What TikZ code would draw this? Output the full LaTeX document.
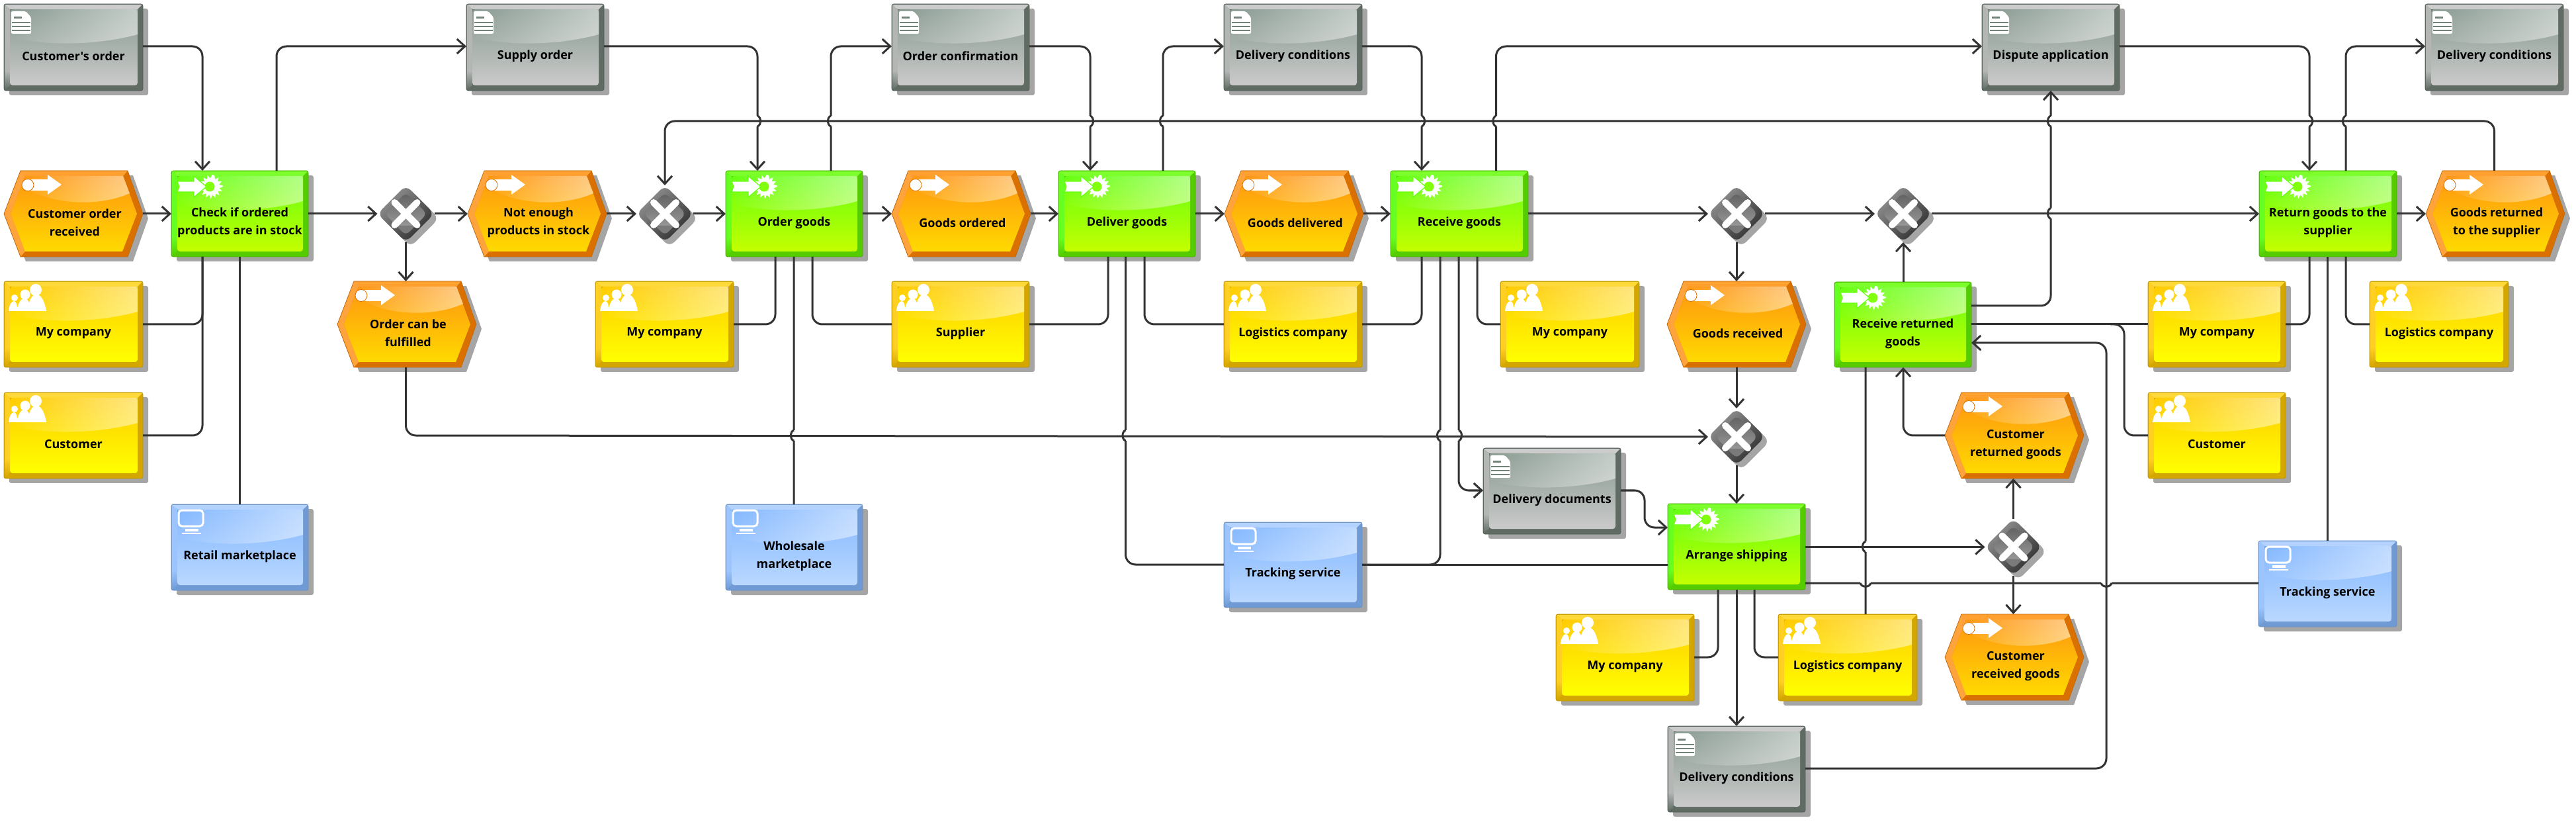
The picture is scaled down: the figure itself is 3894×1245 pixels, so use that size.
\documentclass[tikz,border=0pt]{standalone}
\usepackage{fontspec}
\usetikzlibrary{arrows.meta,shapes.geometric,calc,fadings}
\newfontfamily\lblfont{Open Sans}
% palettes: O outline, T top bevel, L left bevel, D dark bevel, A face top, B face bottom
\definecolor{docO}{HTML}{4F5A54}\definecolor{docT}{HTML}{CCCCCC}\definecolor{docL}{HTML}{B4B6B4}\definecolor{docD}{HTML}{5F6B63}\definecolor{docA}{HTML}{889A90}\definecolor{docB}{HTML}{CACACA}
\definecolor{orgO}{HTML}{C09400}\definecolor{orgT}{HTML}{FFD93A}\definecolor{orgL}{HTML}{FFCF24}\definecolor{orgD}{HTML}{D4A600}\definecolor{orgA}{HTML}{FFCC00}\definecolor{orgB}{HTML}{FFFF00}
\definecolor{fnO}{HTML}{44B000}\definecolor{fnT}{HTML}{7CFF2A}\definecolor{fnL}{HTML}{66FF22}\definecolor{fnD}{HTML}{55CC00}\definecolor{fnA}{HTML}{66FF11}\definecolor{fnB}{HTML}{C4FF00}
\definecolor{evO}{HTML}{C06A10}\definecolor{evT}{HTML}{FFA030}\definecolor{evL}{HTML}{FFA43C}\definecolor{evD}{HTML}{D97000}\definecolor{evA}{HTML}{FF9610}\definecolor{evB}{HTML}{FFDA00}
\definecolor{sysO}{HTML}{6A8FC0}\definecolor{sysT}{HTML}{B4D2FF}\definecolor{sysL}{HTML}{9CC4FF}\definecolor{sysD}{HTML}{6F9AD4}\definecolor{sysA}{HTML}{84B8FF}\definecolor{sysB}{HTML}{BAD8FF}
\definecolor{shad}{HTML}{A5A5A5}\definecolor{linec}{HTML}{333333}
\newcommand\usepal[1]{\colorlet{pO}{#1O}\colorlet{pT}{#1T}\colorlet{pL}{#1L}\colorlet{pD}{#1D}\colorlet{pA}{#1A}\colorlet{pB}{#1B}}
\tikzset{
  flow/.style={draw=linec,line width=1.5pt,rounded corners=7.5pt,-{Straight Barb[length=6pt,width=11pt,line width=1.5pt]}},
  link/.style={draw=linec,line width=1.5pt,rounded corners=7.5pt},
  anchorbox/.style={rectangle,inner sep=0pt,outer sep=0pt,draw=none},
  lbl/.style={font=\lblfont\bfseries\fontsize{9}{13.5}\selectfont,align=center,text=black,inner sep=0pt},
}
% icons (px, relative to box)
\newcommand\icondoc{%
  \fill[white,rounded corners=1pt] (11,11) -- (33,11) -- (41,20) -- (41,45) -- (11,45) -- cycle;
  \fill[pA!85!black] (15,19) rectangle (27,22);
  \foreach \yy in {27,33,39}{\fill[pA!85!black] (12,\yy) rectangle (40,\yy+2);}
}
\newcommand\iconorg{%
  \fill[white] (16,25) circle (5);
  \fill[white] (7,45) .. controls (8,36) and (11,30) .. (15,30) .. controls (19,30) and (20,36) .. (20,45) -- cycle;
  \fill[white] (32,20) circle (7.5);
  \fill[white] (19,45) .. controls (21,36) and (24,26) .. (31,26) .. controls (38,26) and (39,36) .. (39,45) -- cycle;
  \fill[white] (48,13) circle (9);
  \fill[white] (35,45) .. controls (37,34) and (40,20) .. (49,20) .. controls (58,20) and (62,34) .. (64,45) -- cycle;
}
\newcommand\iconfn{%
  \fill[white] (60,24) +(0:18)
    \foreach \aa in {11,22.5,...,360}{ -- +(\aa:{mod(round(\aa/11.25),2)==1 ? 12.5 : 18})} -- cycle;
  \fill[pA!70!pB] (58,24) circle (7.5);
  \fill[white,draw=pA,line width=.6pt] (9,16) -- (34,16) -- (34,8) -- (53,24) -- (34,40) -- (34,32) -- (9,32) -- (12,24) -- cycle;
}
\newcommand\iconev{%
  \fill[white] (36,13) rectangle (66,30);
  \fill[white] (66,6) -- (87,21) -- (66,36) -- cycle;
  \fill[white,draw=evD,line width=.4pt] (36,21.5) circle (9);
}
\newcommand\iconsys{%
  \draw[white,line width=1.5pt,rounded corners=2.5pt] (11,9) rectangle (48,33);
  \fill[white] (21,37) rectangle (41,41);
  \fill[white] (16,43) rectangle (45,45);
}
% rectangular element: name, x0, y0, w, h, palette, icon, text
\newcommand\rectel[8]{%
  \usepal{#6}%
  \begin{scope}[shift={(#2,#3)}]
    \fill[shad,rounded corners=1.5pt] (8,7) rectangle (#4+8,#5+7);
    \fill[pD,rounded corners=1.5pt] (0,0) rectangle (#4,#5);
    \fill[pT] (1,1) -- (#4-1,1) -- (#4-8,8) -- (9,8) -- cycle;
    \fill[pL] (1,1) -- (9,8) -- (9,#5-30) -- (1,#5-30) -- cycle;
    \shade[top color=pL,bottom color=pD] (1,#5-30) -- (9,#5-30) -- (9,#5-8) -- (1,#5-1) -- cycle;
    \draw[pO,line width=.4pt,rounded corners=1.5pt] (0,0) rectangle (#4,#5);
    \shade[top color=pA,bottom color=pB,rounded corners=2pt] (9,8) rectangle (#4-8,#5-8);
    \fill[white,fill opacity=.5,path fading=west] (9,8) -- (#4-8,8) -- (#4-8,46) .. controls ({#4*.72},60) and ({#4*.35},66) .. (9,50) -- cycle;
    #7
  \end{scope}
  \node[anchorbox,anchor=north west,minimum width=#4*.5pt,minimum height=#5*.5pt] (#1) at (#2,#3) {};
  \node[lbl] (#1-t) at ($(#1.center)+(0,13.5)$) {#8};
}
% event: name, x0, y0, text
\newcommand\evel[4]{%
  \usepal{ev}%
  \begin{scope}[shift={(#2,#3)}]
    \fill[shad] (8,7)++(0,65) -- ++(25,-65) -- ++(162,0) -- ++(23,65) -- ++(-23,65) -- ++(-162,0) -- cycle;
    \fill[pD] (0,65) -- (25,0) -- (187,0) -- (210,65) -- (187,130) -- (25,130) -- cycle;
    \fill[pT] (25,0) -- (187,0) -- (180,8) -- (32,8) -- cycle;
    \fill[pL] (0,65) -- (25,0) -- (32,8) -- (10,65) -- (32,122) -- (25,130) -- cycle;
    \draw[pO,line width=.4pt] (0,65) -- (25,0) -- (187,0) -- (210,65) -- (187,130) -- (25,130) -- cycle;
    \shade[top color=pA,bottom color=pB] (10,65) -- (32,8) -- (180,8) -- (201,65) -- (179,122) -- (32,122) -- cycle;
    \fill[white,fill opacity=.5,path fading=west] (26,23) -- (32,8) -- (180,8) -- (190,34) .. controls (150,52) and (80,56) .. (26,23) -- cycle;
    \iconev
  \end{scope}
  \node[anchorbox,anchor=north west,minimum width=105pt,minimum height=65pt] (#1) at (#2,#3) {};
  \node[lbl] (#1-t) at ($(#1.center)+(2,13.5)$) {#4};
}
% gateway: name, cx, cy
\newcommand\gwel[3]{%
  \begin{scope}[shift={(#2,#3)}]
    \fill[shad,rounded corners=5pt] (7,-36) -- (50,7) -- (7,50) -- (-36,7) -- cycle;
    \shade[rounded corners=5pt,top color=black!42,bottom color=black!82,shading angle=45] (0,-43) -- (43,0) -- (0,43) -- (-43,0) -- cycle;
    \shade[rounded corners=4pt,top color=black!62,bottom color=black!35] (0,-32) -- (32,0) -- (0,32) -- (-32,0) -- cycle;
    \fill[black!52,rounded corners=3pt] (-15,18) -- (15,18) -- (0,32) -- cycle;
    \draw[white,line width=5pt,line cap=round] (-17,-17) -- (17,17) (-17,17) -- (17,-17);
  \end{scope}
  \node[diamond,draw=none,inner sep=0pt,outer sep=0pt,minimum width=43pt,minimum height=43pt] (#1) at (#2,#3) {};
}
% line jumps: x, y, side, direction of travel (+1 downwards or rightwards, -1 upwards)
\newcommand\vhop[4]{ -- (#1,#2-#4*8) (#1,#2-#4*8) .. controls (#1+#3,#2-#4*6) and (#1+#3,#2+#4*6) .. (#1,#2+#4*8) (#1,#2+#4*8) }
\newcommand\hhop[4]{ -- (#1-#4*8,#2) (#1-#4*8,#2) .. controls (#1-#4*6,#2+#3) and (#1+#4*6,#2+#3) .. (#1+#4*8,#2) (#1+#4*8,#2) }
\begin{document}
\begin{tikzpicture}[x=.5pt,y=-.5pt]
\useasboundingbox (0,0) rectangle (3894,1245);
% documents
\rectel{custorder}{6}{6}{210}{131}{doc}{\icondoc}{Customer's order}
\rectel{supply}{705}{6}{208}{131}{doc}{\icondoc}{Supply order}
\rectel{orderconf}{1348}{6}{208}{131}{doc}{\icondoc}{Order confirmation}
\rectel{delcondA}{1850}{6}{209}{131}{doc}{\icondoc}{Delivery conditions}
\rectel{dispute}{2996}{6}{208}{131}{doc}{\icondoc}{Dispute application}
\rectel{delcondB}{3666}{6}{209}{131}{doc}{\icondoc}{Delivery conditions}
\rectel{delivdocs}{2242}{677}{208}{130}{doc}{\icondoc}{Delivery documents}
\rectel{delcondC}{2521}{1097}{208}{130}{doc}{\icondoc}{Delivery conditions}
% functions
\rectel{check}{259}{258}{207}{130}{fn}{\iconfn}{Check if ordered\\products are in stock}
\rectel{ordergoods}{1097}{258}{207}{130}{fn}{\iconfn}{Order goods}
\rectel{deliver}{1600}{258}{207}{130}{fn}{\iconfn}{Deliver goods}
\rectel{receive}{2102}{258}{208}{130}{fn}{\iconfn}{Receive goods}
\rectel{returng}{3415}{258}{208}{130}{fn}{\iconfn}{Return goods to the\\supplier}
\rectel{rrg}{2773}{426}{207}{129}{fn}{\iconfn}{Receive returned\\goods}
\rectel{arrange}{2521}{761}{208}{130}{fn}{\iconfn}{Arrange shipping}
% organisational units
\rectel{mcA}{6}{425}{210}{130}{org}{\iconorg}{My company}
\rectel{custA}{6}{593}{210}{130}{org}{\iconorg}{Customer}
\rectel{mcB}{900}{425}{209}{130}{org}{\iconorg}{My company}
\rectel{supplier}{1348}{425}{208}{130}{org}{\iconorg}{Supplier}
\rectel{logiA}{1850}{425}{209}{130}{org}{\iconorg}{Logistics company}
\rectel{mcC}{2268}{425}{210}{130}{org}{\iconorg}{My company}
\rectel{mcD}{3247}{425}{208}{130}{org}{\iconorg}{My company}
\rectel{custB}{3247}{593}{208}{130}{org}{\iconorg}{Customer}
\rectel{logiB}{3582}{425}{210}{130}{org}{\iconorg}{Logistics company}
\rectel{mcE}{2352}{928}{209}{131}{org}{\iconorg}{My company}
\rectel{logiC}{2688}{928}{210}{131}{org}{\iconorg}{Logistics company}
% systems
\rectel{retail}{259}{762}{207}{130}{sys}{\iconsys}{Retail marketplace}
\rectel{wholesale}{1097}{762}{207}{130}{sys}{\iconsys}{Wholesale\\marketplace}
\rectel{trackA}{1850}{789}{209}{129}{sys}{\iconsys}{Tracking service}
\rectel{trackB}{3414}{817}{209}{130}{sys}{\iconsys}{Tracking service}
% events
\evel{custrec}{6}{258}{Customer order\\received}
\evel{notenough}{707}{258}{Not enough\\products in stock}
\evel{goodsord}{1348}{258}{Goods ordered}
\evel{goodsdel}{1851}{258}{Goods delivered}
\evel{goodsret}{3667}{258}{Goods returned\\to the supplier}
\evel{canfulfil}{510}{425}{Order can be\\fulfilled}
\evel{goodsrecv}{2520}{425}{Goods received}
\evel{custret}{2940}{593}{Customer\\returned goods}
\evel{custrecv}{2940}{928}{Customer\\received goods}
% gateways
\gwel{gwA}{613.5}{323}
\gwel{gwB}{1005}{323}
\gwel{gwC}{2625}{323}
\gwel{gwD}{2877}{323}
\gwel{gwE}{2625}{660}
\gwel{gwF}{3043.5}{826.5}
% main flow
\draw[flow] (custrec.east) -- (check.west);
\draw[flow] (check.east) -- (gwA.west);
\draw[flow] (gwA.east) -- (notenough.west);
\draw[flow] (notenough.east) -- (gwB.west);
\draw[flow] (gwB.east) -- (ordergoods.west);
\draw[flow] (ordergoods.east) -- (goodsord.west);
\draw[flow] (goodsord.east) -- (deliver.west);
\draw[flow] (deliver.east) -- (goodsdel.west);
\draw[flow] (goodsdel.east) -- (receive.west);
\draw[flow] (receive.east) -- (gwC.west);
\draw[flow] (gwC.east) -- (gwD.west);
\draw[flow] (returng.east) -- (goodsret.west);
\draw[flow] (gwA.south) -- (canfulfil.north -| gwA.south);
\draw[flow] (gwC.south) -- (goodsrecv.north -| gwC.south);
\draw[flow] (goodsrecv.south -| gwE.north) -- (gwE.north);
\draw[flow] (gwE.south) -- (arrange.north -| gwE.south);
\draw[flow] (2625,0 |- arrange.south) -- (2625,0 |- delcondC.north);
\draw[flow] (rrg.north -| gwD.south) -- (gwD.south);
\draw[flow] (gwF.north) -- (custret.south -| gwF.north);
\draw[flow] (gwF.south) -- (custrecv.north -| gwF.south);
\draw[flow] (gwD.east) -- (returng.west);
% top row documents
\draw[flow] (custorder.east |- 0,70) -- (306,70) -- (306,0 |- check.north);
\draw[flow] (418,0 |- check.north) -- (418,70) -- (supply.west |- 0,70);
\draw[flow] (supply.east |- 0,70) -- (1145,70) \vhop{1145}{183}{6}{1} -- (1145,0 |- ordergoods.north);
\draw[flow] (1256,0 |- ordergoods.north) \vhop{1256}{183}{-6}{-1} -- (1256,70) -- (orderconf.west |- 0,70);
\draw[flow] (orderconf.east |- 0,70) -- (1648,70) \vhop{1648}{183}{6}{1} -- (1648,0 |- deliver.north);
\draw[flow] (1758,0 |- deliver.north) \vhop{1758}{183}{-6}{-1} -- (1758,70) -- (delcondA.west |- 0,70);
\draw[flow] (delcondA.east |- 0,70) -- (2149,70) \vhop{2149}{183}{6}{1} -- (2149,0 |- receive.north);
\draw[flow] (2261.5,0 |- receive.north) \vhop{2261.5}{183}{-6}{-1} -- (2261.5,70) -- (dispute.west |- 0,70);
\draw[flow] (dispute.east |- 0,70) -- (3491,70) \vhop{3491}{183}{6}{1} -- (3491,0 |- returng.north);
\draw[flow] (3546,0 |- returng.north) \vhop{3546}{183}{-6}{-1} -- (3546,70) -- (delcondB.west |- 0,70);
\draw[flow] (rrg.east |- 0,462) -- (3100,462) \vhop{3100}{322.5}{-6}{-1} \vhop{3100}{183}{-6}{-1} -- (3100,0 |- dispute.south);
% feedback
\draw[flow] (3770.5,0 |- goodsret.north) -- (3770.5,183) -- (gwB.north |- 0,183) -- (gwB.north);
% order can be fulfilled to gateway
\draw[flow] (canfulfil.south -| gwA.south) -- (613.5,658) -- (gwE.west);
% organisational links
\draw[link] (mcA.east |- 0,490) -- (306,490) -- (306,0 |- check.south);
\draw[link] (custA.east |- 0,658) -- (306,658) -- (306,0 |- check.south);
\draw[link] (362,0 |- check.south) -- (362,0 |- retail.north);
\draw[link] (mcB.east |- 0,490) -- (1172,490) -- (1172,0 |- ordergoods.south);
\draw[link] (supplier.west |- 0,490) -- (1228,490) -- (1228,0 |- ordergoods.south);
\draw[link] (supplier.east |- 0,490) -- (1675,490) -- (1675,0 |- deliver.south);
\draw[link] (logiA.west |- 0,490) -- (1730,490) -- (1730,0 |- deliver.south);
\draw[link] (logiA.east |- 0,490) -- (2149,490) -- (2149,0 |- receive.south);
\draw[link] (mcC.west |- 0,490) -- (2233,490) -- (2233,0 |- receive.south);
\draw[link] (1200,0 |- ordergoods.south) \vhop{1200}{658}{-6}{1} -- (1200,0 |- wholesale.north);
\draw[link] (1701.5,0 |- deliver.south) \vhop{1701.5}{658}{-6}{1} -- (1701.5,853) -- (trackA.west |- 0,853);
\draw[link] (2177,0 |- receive.south) \vhop{2177}{658}{-6}{1} -- (2177,853) -- (trackA.east |- 0,853);
\draw[link] (arrange.west |- 0,853) -- (trackA.east |- 0,853);
\draw[flow] (2205,0 |- receive.south) \vhop{2205}{658}{6}{1} -- (2205,741) -- (delivdocs.west |- 0,741);
\draw[flow] (delivdocs.east |- 0,741) -- (2486,741) -- (2486,797) -- (arrange.west |- 0,797);
\draw[link] (mcE.east |- 0,993) -- (2597,993) -- (2597,0 |- arrange.south);
\draw[link] (logiC.west |- 0,993) -- (2652,993) -- (2652,0 |- arrange.south);
\draw[flow] (arrange.east |- gwF.west) -- (gwF.west);
\draw[link] (2820,0 |- logiC.north) \vhop{2820}{826}{-6}{-1} -- (2820,0 |- rrg.south);
\draw[link] (arrange.east |- 0,881) \hhop{2820}{881}{7}{1} \hhop{3184}{881}{7}{1} -- (trackB.west |- 0,881);
\draw[flow] (delcondC.east |- 0,1161) -- (3184,1161) -- (3184,518) -- (rrg.east |- 0,518);
\draw[link] (rrg.east |- 0,490) -- (mcD.west |- 0,490);
\draw[link] (custB.west |- 0,658) -- (3211,658) -- (3211,490) -- (3190,490);
\draw[flow] (custret.west |- 0,658) -- (2877,658) -- (2877,0 |- rrg.south);
\draw[link] (mcD.east |- 0,490) -- (3491,490) -- (3491,0 |- returng.south);
\draw[link] (3518,0 |- returng.south) -- (3518,0 |- trackB.north);
\draw[link] (logiB.west |- 0,490) -- (3546,490) -- (3546,0 |- returng.south);
\end{tikzpicture}
\end{document}
